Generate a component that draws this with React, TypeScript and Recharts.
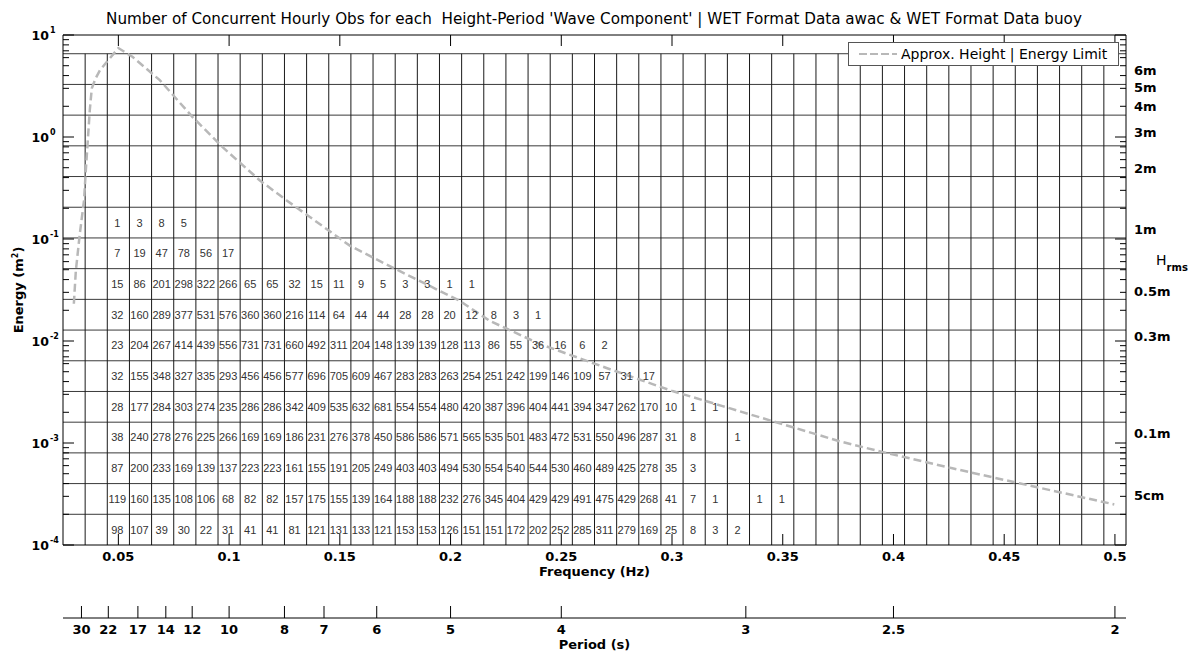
import React from 'react';
import {
  ComposedChart,
  Line,
  Scatter,
  XAxis,
  YAxis,
  ReferenceLine,
  Legend,
} from 'recharts';

const TITLE =
  "Number of Concurrent Hourly Obs for each  Height-Period 'Wave Component' | WET Format Data awac & WET Format Data buoy";

const LABEL_FONT = 'DejaVu Sans, Verdana, sans-serif';
const CELL_FONT = 'Liberation Sans, Arial, sans-serif';

// axes
const freqDomain = [0.025, 0.505];
const energyDomain = [1e-4, 10];
const freqTicks = [0.05, 0.1, 0.15, 0.2, 0.25, 0.3, 0.35, 0.4, 0.45, 0.5];
const periodTicks = [30, 22, 17, 14, 12, 10, 8, 7, 6, 5, 4, 3, 2.5, 2];
const energyMajor = [1e-4, 1e-3, 1e-2, 1e-1, 1, 10];
const energyExp = ['-4', '-3', '-2', '-1', '0', '1'];
const minorMult = [2, 3, 4, 5, 6, 7, 8, 9];
const energyMinor = energyMajor
  .slice(0, 5)
  .flatMap((d) => minorMult.map((m) => +(m * d).toPrecision(3)));
const logTicks = [...energyMajor, ...energyMinor].sort((a, b) => a - b);

// right hand Hrms labels (E = Hrms^2 / 8)
const hrmsHeights = [6, 5, 4, 3, 2, 1, 0.5, 0.3, 0.1, 0.05];
const hrmsLabels = ['6m', '5m', '4m', '3m', '2m', '1m', '0.5m', '0.3m', '0.1m', '5cm'];
const hrmsEnergy = hrmsHeights.map((h) => (h * h) / 8);

// table grid (energy rows double each step, 0.01 Hz columns)
const rowEdges = [
  1e-4, 2e-4, 4e-4, 8e-4, 0.0016, 0.0032, 0.0064, 0.0128, 0.0256, 0.0512,
  0.1024, 0.2048, 0.4096, 0.8192, 1.6384, 3.2768, 6.5536,
];
const colEdges = Array.from({ length: 47 }, (_, i) => +(0.035 + i * 0.01).toFixed(3));
const colFreqs = [
  0.05, 0.06, 0.07, 0.08, 0.09, 0.1, 0.11, 0.12, 0.13, 0.14, 0.15, 0.16, 0.17, 0.18, 0.19,
  0.2, 0.21, 0.22, 0.23, 0.24, 0.25, 0.26, 0.27, 0.28, 0.29, 0.3, 0.31, 0.32, 0.33, 0.34, 0.35,
];

// counts per row, bottom row first
const row0 = [98, 107, 39, 30, 22, 31, 41, 41, 81, 121, 131, 133, 121, 153, 153, 126, 151, 151, 172, 202, 252, 285, 311, 279, 169, 25, 8, 3, 2];
const row1 = [119, 160, 135, 108, 106, 68, 82, 82, 157, 175, 155, 139, 164, 188, 188, 232, 276, 345, 404, 429, 429, 491, 475, 429, 268, 41, 7, 1, null, 1, 1];
const row2 = [87, 200, 233, 169, 139, 137, 223, 223, 161, 155, 191, 205, 249, 403, 403, 494, 530, 554, 540, 544, 530, 460, 489, 425, 278, 35, 3];
const row3 = [38, 240, 278, 276, 225, 266, 169, 169, 186, 231, 276, 378, 450, 586, 586, 571, 565, 535, 501, 483, 472, 531, 550, 496, 287, 31, 8, null, 1];
const row4 = [28, 177, 284, 303, 274, 235, 286, 286, 342, 409, 535, 632, 681, 554, 554, 480, 420, 387, 396, 404, 441, 394, 347, 262, 170, 10, 1, 1];
const row5 = [32, 155, 348, 327, 335, 293, 456, 456, 577, 696, 705, 609, 467, 283, 283, 263, 254, 251, 242, 199, 146, 109, 57, 31, 17];
const row6 = [23, 204, 267, 414, 439, 556, 731, 731, 660, 492, 311, 204, 148, 139, 139, 128, 113, 86, 55, 36, 16, 6, 2];
const row7 = [32, 160, 289, 377, 531, 576, 360, 360, 216, 114, 64, 44, 44, 28, 28, 20, 12, 8, 3, 1];
const row8 = [15, 86, 201, 298, 322, 266, 65, 65, 32, 15, 11, 9, 5, 3, 3, 1, 1];
const row9 = [7, 19, 47, 78, 56, 17];
const row10 = [1, 3, 8, 5];
const countRows = [row0, row1, row2, row3, row4, row5, row6, row7, row8, row9, row10];

// approx. height / energy limit curve
const curveFreq = [
  0.0299, 0.0308, 0.0326, 0.0345, 0.0353, 0.0362, 0.0371, 0.038, 0.0398, 0.0417, 0.05,
  0.0565, 0.0687, 0.0836, 0.0972, 0.1139, 0.126, 0.1545, 0.1739, 0.2041, 0.2176, 0.2402,
  0.2704, 0.3002, 0.3228, 0.3453, 0.3756, 0.3936, 0.4266, 0.4568, 0.4997,
];
const curveEnergy = [
  0.0232, 0.0489, 0.113, 0.239, 0.47, 0.93, 1.83, 3.01, 3.78, 4.53, 7.45,
  6.08, 3.61, 1.56, 0.79, 0.375, 0.239, 0.0861, 0.0524, 0.0248, 0.0158, 0.00937,
  0.00544, 0.00323, 0.0023, 0.00164, 0.00104, 0.00083, 0.000565, 0.000403, 0.00025,
];

const curveData = curveFreq.map((f, i) => ({ f, e: curveEnergy[i] }));

const cellData = countRows.flatMap((row, k) =>
  row
    .map((n, j) =>
      n == null ? null : { f: colFreqs[j], e: Math.sqrt(rowEdges[k] * rowEdges[k + 1]), n }
    )
    .filter(Boolean)
);

// mirrored frequency ticks on the top frame (sit on E = 10)
const topTickData = freqTicks.map((f) => ({ f, e: energyDomain[1] }));

const near = (a: number, b: number) => Math.abs(a - b) / b < 1e-6;
const rightTicks = [...logTicks, ...hrmsEnergy.filter((h) => !logTicks.some((t) => near(h, t)))].sort(
  (a, b) => a - b
);

const LeftTick = (props: any) => {
  const { x, y, payload } = props;
  const idx = energyMajor.findIndex((v) => near(payload.value, v));
  const major = idx >= 0;
  return (
    <g>
      <line x1={x} x2={x + (major ? 11 : 6)} y1={y} y2={y} stroke="#000" />
      {major && (
        <g fontFamily={LABEL_FONT} fontWeight="bold" fill="#000">
          <text x={x - 14} y={y + 5} textAnchor="end" fontSize={12.5}>
            10
          </text>
          <text x={x - 13} y={y - 2} textAnchor="start" fontSize={8}>
            {energyExp[idx]}
          </text>
        </g>
      )}
    </g>
  );
};

const RightTick = (props: any) => {
  const { x, y, payload } = props;
  const v = payload.value;
  const isMajor = energyMajor.some((t) => near(v, t));
  const isLog = logTicks.some((t) => near(v, t));
  const hIdx = hrmsEnergy.findIndex((t) => near(v, t));
  return (
    <g>
      {isLog && <line x1={x} x2={x - (isMajor ? 11 : 6)} y1={y} y2={y} stroke="#000" />}
      {hIdx >= 0 && (
        <text
          x={x + 8}
          y={y + 5}
          fontFamily={LABEL_FONT}
          fontWeight="bold"
          fontSize={13}
          fill="#000"
        >
          {hrmsLabels[hIdx]}
        </text>
      )}
    </g>
  );
};

const FreqTick = (props: any) => {
  const { x, y, payload } = props;
  return (
    <g>
      <line x1={x} x2={x} y1={y} y2={Number(y) - 11} stroke="#000" />
      <text
        x={x}
        y={Number(y) + 16}
        textAnchor="middle"
        fontFamily={LABEL_FONT}
        fontWeight="bold"
        fontSize={13}
        fill="#000"
      >
        {String(payload.value)}
      </text>
    </g>
  );
};

const PeriodTick = (props: any) => {
  const { x, y, payload } = props;
  const period = Number((1 / payload.value).toFixed(1));
  return (
    <g>
      <line x1={x} x2={x} y1={y} y2={Number(y) - 12} stroke="#000" />
      <text
        x={x}
        y={Number(y) + 16}
        textAnchor="middle"
        fontFamily={LABEL_FONT}
        fontWeight="bold"
        fontSize={13}
        fill="#000"
      >
        {String(period)}
      </text>
    </g>
  );
};

const TopTickMark = (props: any) => {
  const { cx, cy } = props;
  if (cx == null || cy == null) return null;
  return <line x1={cx} x2={cx} y1={cy} y2={cy + 11} stroke="#000" strokeWidth={1} />;
};

const CellText = (props: any) => {
  const { cx, cy, payload } = props;
  if (cx == null || cy == null) return null;
  return (
    <text
      x={cx - 1}
      y={cy}
      dy="0.36em"
      textAnchor="middle"
      fontFamily={CELL_FONT}
      fontSize={11}
      fill="#333"
    >
      {payload.n}
    </text>
  );
};

const renderLegend = (props: any) => {
  const item = (props.payload || []).find((p: any) => p.value === 'Approx. Height | Energy Limit') || {};
  return (
    <div
      style={{
        boxSizing: 'border-box',
        width: 271,
        height: 24,
        border: '1px solid #555',
        background: '#fff',
        display: 'flex',
        alignItems: 'center',
        fontFamily: LABEL_FONT,
        fontSize: 14,
        color: '#000',
        whiteSpace: 'nowrap',
      }}
    >
      <svg width={40} height={10} style={{ marginLeft: 10 }}>
        <line x1={0} x2={38} y1={5} y2={5} stroke="#b8b8b8" strokeWidth={2} strokeDasharray="8 3" />
      </svg>
      <span style={{ marginLeft: 2 }}>{item.value}</span>
    </div>
  );
};

export default function App() {
  return (
    <div style={{ position: 'absolute', left: 0, top: 0, background: '#fff' }}>
      <ComposedChart width={1191} height={655} margin={{ top: 35, right: 0, bottom: 0, left: 0 }}>
        <XAxis
          xAxisId="f"
          dataKey="f"
          type="number"
          domain={freqDomain}
          allowDataOverflow
          ticks={freqTicks}
          interval={0}
          tickSize={0}
          tickMargin={0}
          tick={<FreqTick />}
          tickLine={false}
          axisLine={{ stroke: '#000' }}
          height={73}
          label={(p: any) => {
            const vb = p.viewBox || {};
            return (
              <text
                x={vb.x + vb.width / 2}
                y={vb.y + 31}
                textAnchor="middle"
                fontFamily={LABEL_FONT}
                fontWeight="bold"
                fontSize={13}
                fill="#000"
              >
                Frequency (Hz)
              </text>
            );
          }}
        />
        <XAxis
          xAxisId="p"
          dataKey="f"
          type="number"
          domain={freqDomain}
          allowDataOverflow
          ticks={periodTicks.map((t) => 1 / t)}
          interval={0}
          tickSize={0}
          tickMargin={0}
          tick={<PeriodTick />}
          tickLine={false}
          axisLine={{ stroke: '#000' }}
          height={37}
          label={(p: any) => {
            const vb = p.viewBox || {};
            return (
              <text
                x={vb.x + vb.width / 2}
                y={vb.y + 31}
                textAnchor="middle"
                fontFamily={LABEL_FONT}
                fontWeight="bold"
                fontSize={13}
                fill="#000"
              >
                Period (s)
              </text>
            );
          }}
        />
        <YAxis
          yAxisId="E"
          type="number"
          scale="log"
          domain={energyDomain}
          allowDataOverflow
          ticks={logTicks}
          interval={0}
          tickSize={0}
          tickMargin={0}
          tick={<LeftTick />}
          tickLine={false}
          axisLine={{ stroke: '#000' }}
          width={63}
          label={(p: any) => {
            const vb = p.viewBox || {};
            const cy = vb.y + vb.height / 2;
            return (
              <g>
                <text
                  x={23}
                  y={cy}
                  transform={`rotate(-90, 23, ${cy})`}
                  textAnchor="middle"
                  fontFamily={LABEL_FONT}
                  fontWeight="bold"
                  fontSize={13}
                  fill="#000"
                >
                  Energy (m<tspan dy={-5} fontSize={8}>2</tspan>
                  <tspan dy={5}>)</tspan>
                </text>
                <text
                  x={594}
                  y={24}
                  textAnchor="middle"
                  fontFamily={LABEL_FONT}
                  fontSize={15.2}
                  fill="#000"
                  style={{ whiteSpace: 'pre' }}
                >
                  {TITLE}
                </text>
              </g>
            );
          }}
        />
        <YAxis
          yAxisId="r"
          orientation="right"
          type="number"
          scale="log"
          domain={energyDomain}
          allowDataOverflow
          ticks={rightTicks}
          interval={0}
          tickSize={0}
          tickMargin={0}
          tick={<RightTick />}
          tickLine={false}
          axisLine={{ stroke: '#000' }}
          width={65}
          label={(p: any) => {
            const vb = p.viewBox || {};
            return (
              <text x={vb.x + 30} y={vb.y + 230} fontFamily={LABEL_FONT} fontSize={14} fill="#000">
                H
                <tspan dy={6} fontSize={10} fontWeight="bold">
                  rms
                </tspan>
              </text>
            );
          }}
        />

        {rowEdges.slice(1).map((e) => (
          <ReferenceLine
            key={`h-${e}`}
            xAxisId="f"
            yAxisId="E"
            y={e}
            stroke="#3a3a3a"
            strokeWidth={1}
          />
        ))}
        {colEdges.map((f) => (
          <ReferenceLine
            key={`v-${f}`}
            xAxisId="f"
            yAxisId="E"
            segment={[
              { x: f, y: rowEdges[0] },
              { x: f, y: rowEdges[rowEdges.length - 1] },
            ]}
            stroke="#1a1a1a"
            strokeWidth={1}
          />
        ))}
        {/* top frame of the axes box */}
        <ReferenceLine
          xAxisId="f"
          yAxisId="E"
          y={energyDomain[1]}
          ifOverflow="visible"
          stroke="#000"
          strokeWidth={1}
        />

        {/* invisible series so the period axis gets its ticks */}
        <Line
          xAxisId="p"
          yAxisId="r"
          data={curveData}
          dataKey="e"
          stroke="none"
          dot={false}
          activeDot={false}
          legendType="none"
          isAnimationActive={false}
        />

        <Scatter
          xAxisId="f"
          yAxisId="E"
          data={topTickData}
          dataKey="e"
          shape={<TopTickMark />}
          legendType="none"
          isAnimationActive={false}
        />
        <Scatter
          xAxisId="f"
          yAxisId="E"
          data={cellData}
          dataKey="e"
          shape={<CellText />}
          legendType="none"
          isAnimationActive={false}
        />
        <Line
          xAxisId="f"
          yAxisId="E"
          data={curveData}
          dataKey="e"
          name="Approx. Height | Energy Limit"
          type="linear"
          stroke="#b8b8b8"
          strokeWidth={2.5}
          strokeDasharray="8 4"
          dot={false}
          activeDot={false}
          isAnimationActive={false}
        />
        <Legend
          layout="vertical"
          align="center"
          verticalAlign="middle"
          wrapperStyle={{ left: 848, top: 42, width: 271, height: 24 }}
          content={renderLegend}
        />
      </ComposedChart>
    </div>
  );
}
